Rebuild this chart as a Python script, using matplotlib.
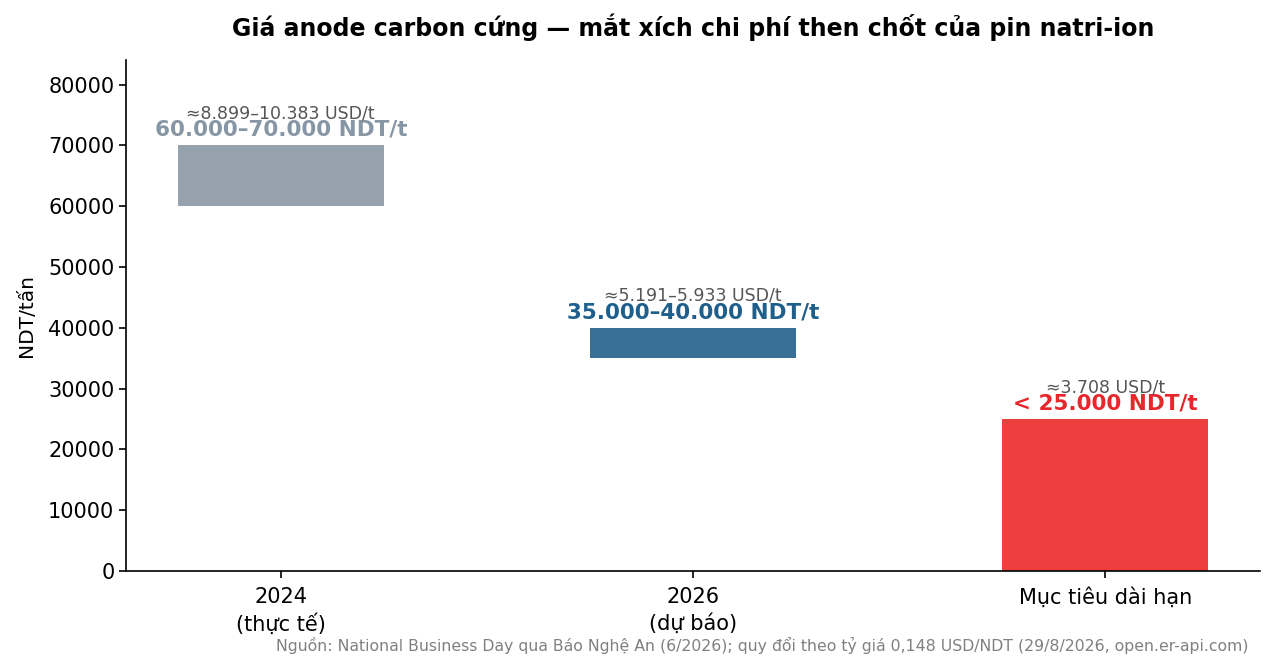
import matplotlib
matplotlib.use("Agg")
import matplotlib.pyplot as plt

plt.rcParams["font.family"] = ["DejaVu Sans"]

# --- data ---
categories = ["2024\n(thực tế)", "2026\n(dự báo)", "Mục tiêu dài hạn"]
price_low = [60000, 35000, 0]
price_high = [70000, 40000, 25000]
main_labels = ["60.000–70.000 NDT/t", "35.000–40.000 NDT/t", "< 25.000 NDT/t"]
usd_labels = ["≈8.899–10.383 USD/t", "≈5.191–5.933 USD/t", "≈3.708 USD/t"]
bar_colors = ["#95a2ae", "#376f96", "#ee3f3f"]
label_colors = ["#8796a4", "#1f5f8b", "#e8262b"]

fig, ax = plt.subplots(figsize=(12.75, 6.71), dpi=100)

x = range(len(categories))
heights = [h - l for l, h in zip(price_low, price_high)]
ax.bar(x, heights, bottom=price_low, width=0.5, color=bar_colors)

# value labels (they sit tight together, as in the original)
for i in x:
    ax.annotate(main_labels[i], (i, price_high[i]), xytext=(0, 4),
                textcoords="offset points", ha="center", va="bottom",
                fontsize=15.5, fontweight="bold", color=label_colors[i])
    ax.annotate(usd_labels[i], (i, price_high[i]), xytext=(0, 16.5),
                textcoords="offset points", ha="center", va="bottom",
                fontsize=12.5, color="#555555")

ax.set_xticks(list(x))
ax.set_xticklabels(categories, fontsize=15, linespacing=1.35)
ax.tick_params(axis="x", pad=6.5)
ax.tick_params(axis="y", labelsize=15)
ax.tick_params(width=1.2, length=5)
ax.set_ylim(0, 84000)
ax.set_ylabel("NDT/tấn", fontsize=14.5, labelpad=9)
ax.set_title("Giá anode carbon cứng — mắt xích chi phí then chốt của pin natri-ion",
             fontsize=17, fontweight="bold", pad=17.5)
ax.spines["top"].set_visible(False)
ax.spines["right"].set_visible(False)
ax.spines["left"].set_linewidth(1.2)
ax.spines["bottom"].set_linewidth(1.2)

fig.text(0.979, 0.025,
         "Nguồn: National Business Day qua Báo Nghệ An (6/2026); quy đổi theo tỷ giá 0,148 USD/NDT (29/8/2026, open.er-api.com)",
         ha="right", va="bottom", fontsize=11.3, color="#808080")

plt.subplots_adjust(left=0.099, right=0.988, top=0.91, bottom=0.149)
plt.savefig("out.png", dpi=100)
